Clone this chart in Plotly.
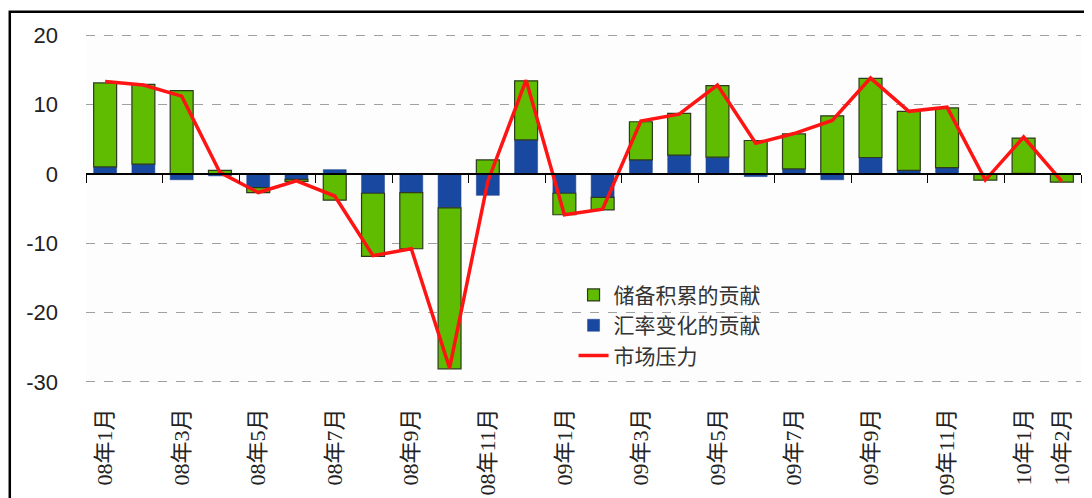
import plotly.graph_objects as go

months = ["08年1月", "08年2月", "08年3月", "08年4月", "08年5月", "08年6月", "08年7月", "08年8月",
          "08年9月", "08年10月", "08年11月", "08年12月", "09年1月", "09年2月", "09年3月", "09年4月",
          "09年5月", "09年6月", "09年7月", "09年8月", "09年9月", "09年10月", "09年11月", "09年12月",
          "10年1月", "10年2月"]

reserve = [12.1, 11.5, 12.0, 0.5, -0.7, -0.3, -3.8, -9.1, -8.1, -23.2, 2.0, 8.5, -3.1, -1.8,
           5.5, 6.0, 10.3, 4.8, 5.05, 8.35, 11.4, 8.5, 8.6, -0.8, 5.1, -1.2]
fx = [1.0, 1.4, -0.86, -0.3, -2.0, -0.8, 0.6, -2.8, -2.7, -4.9, -3.1, 4.9, -2.8, -3.4,
      2.0, 2.7, 2.4, -0.4, 0.7, -0.86, 2.35, 0.5, 0.9, -0.1, 0.05, 0.0]
pressure = [13.3, 12.8, 11.2, 0.2, -2.7, -1.0, -3.2, -11.8, -10.8, -28.0, -1.1, 13.5, -5.9, -5.1,
            7.6, 8.6, 12.8, 4.4, 5.8, 7.7, 13.8, 9.0, 9.6, -0.9, 5.3, -1.1]

tick_idx = [0, 2, 4, 6, 8, 10, 12, 14, 16, 18, 20, 22, 24, 25]
tick_text = [months[i] for i in tick_idx]
yticks = [-30, -20, -10, 0, 10, 20]
ytick_text = ["-30", "-20", "-10", "0", "10", "20"]

x = list(range(len(months)))

fig = go.Figure()
fig.add_trace(go.Bar(x=x, y=fx, name="汇率变化的贡献",
                     marker=dict(color="#1848a0", line=dict(color="#1a3f8a", width=0.5)),
                     width=0.6, legendrank=2))
fig.add_trace(go.Bar(x=x, y=reserve, name="储备积累的贡献",
                     marker=dict(color="#5fbc00", line=dict(color="#2d3a1c", width=1.2)),
                     width=0.6, legendrank=1))
fig.add_trace(go.Scatter(x=x, y=pressure, name="市场压力", mode="lines", xaxis="x2",
                         line=dict(color="#ff1414", width=3.5), legendrank=3))

# page body has an 8px margin: figure is sized/offset to compensate
fig.update_layout(
    width=1084, height=490,
    barmode="relative",
    paper_bgcolor="white", plot_bgcolor="#fdfdfd",
    margin=dict(l=78, r=11, t=26, b=115, autoexpand=False),
    showlegend=True,
    legend=dict(x=0.49, y=0.31, xanchor="left", yanchor="top", bgcolor="rgba(0,0,0,0)",
                font=dict(family="Noto Sans CJK SC", size=21, color="#333"),
                tracegroupgap=0, itemwidth=30, traceorder="normal"),
    xaxis=dict(range=[-0.5, 25.5], tickvals=tick_idx, ticktext=tick_text, tickangle=-90,
               tickfont=dict(family="Liberation Serif, Noto Sans CJK SC", size=22, color="#222"),
               showgrid=False, zeroline=False, showline=False, ticks="", ticklabelstandoff=20,
               automargin=False),
    xaxis2=dict(matches="x", overlaying="x", anchor="free", position=30.15 / 50.3, side="bottom",
                showline=True, linecolor="black", linewidth=1.5, ticks="outside", ticklen=8,
                tickcolor="black", tickwidth=1.2, tickvals=[i - 0.5 for i in range(0, 27, 2)],
                showticklabels=False, showgrid=False, zeroline=False, automargin=False),
    yaxis=dict(range=[-30.15, 20.15], tickvals=yticks, ticktext=ytick_text, showgrid=True,
               gridcolor="#a0a0a0", griddash="dash", gridwidth=1, zeroline=True,
               zerolinecolor="black", zerolinewidth=1.5,
               tickfont=dict(family="Liberation Sans", size=22, color="#222"),
               ticklabelstandoff=27, showline=False, automargin=False),
)

# outer frame of the chart (extends past the photographed area as in the reference)
fig.add_shape(type="rect", xref="paper", yref="paper", x0=-0.0766, x1=1.05, y0=-0.6, y1=1.0634,
              line=dict(color="black", width=2.5), fillcolor="rgba(0,0,0,0)", layer="above")

fig.write_html("out.html")
